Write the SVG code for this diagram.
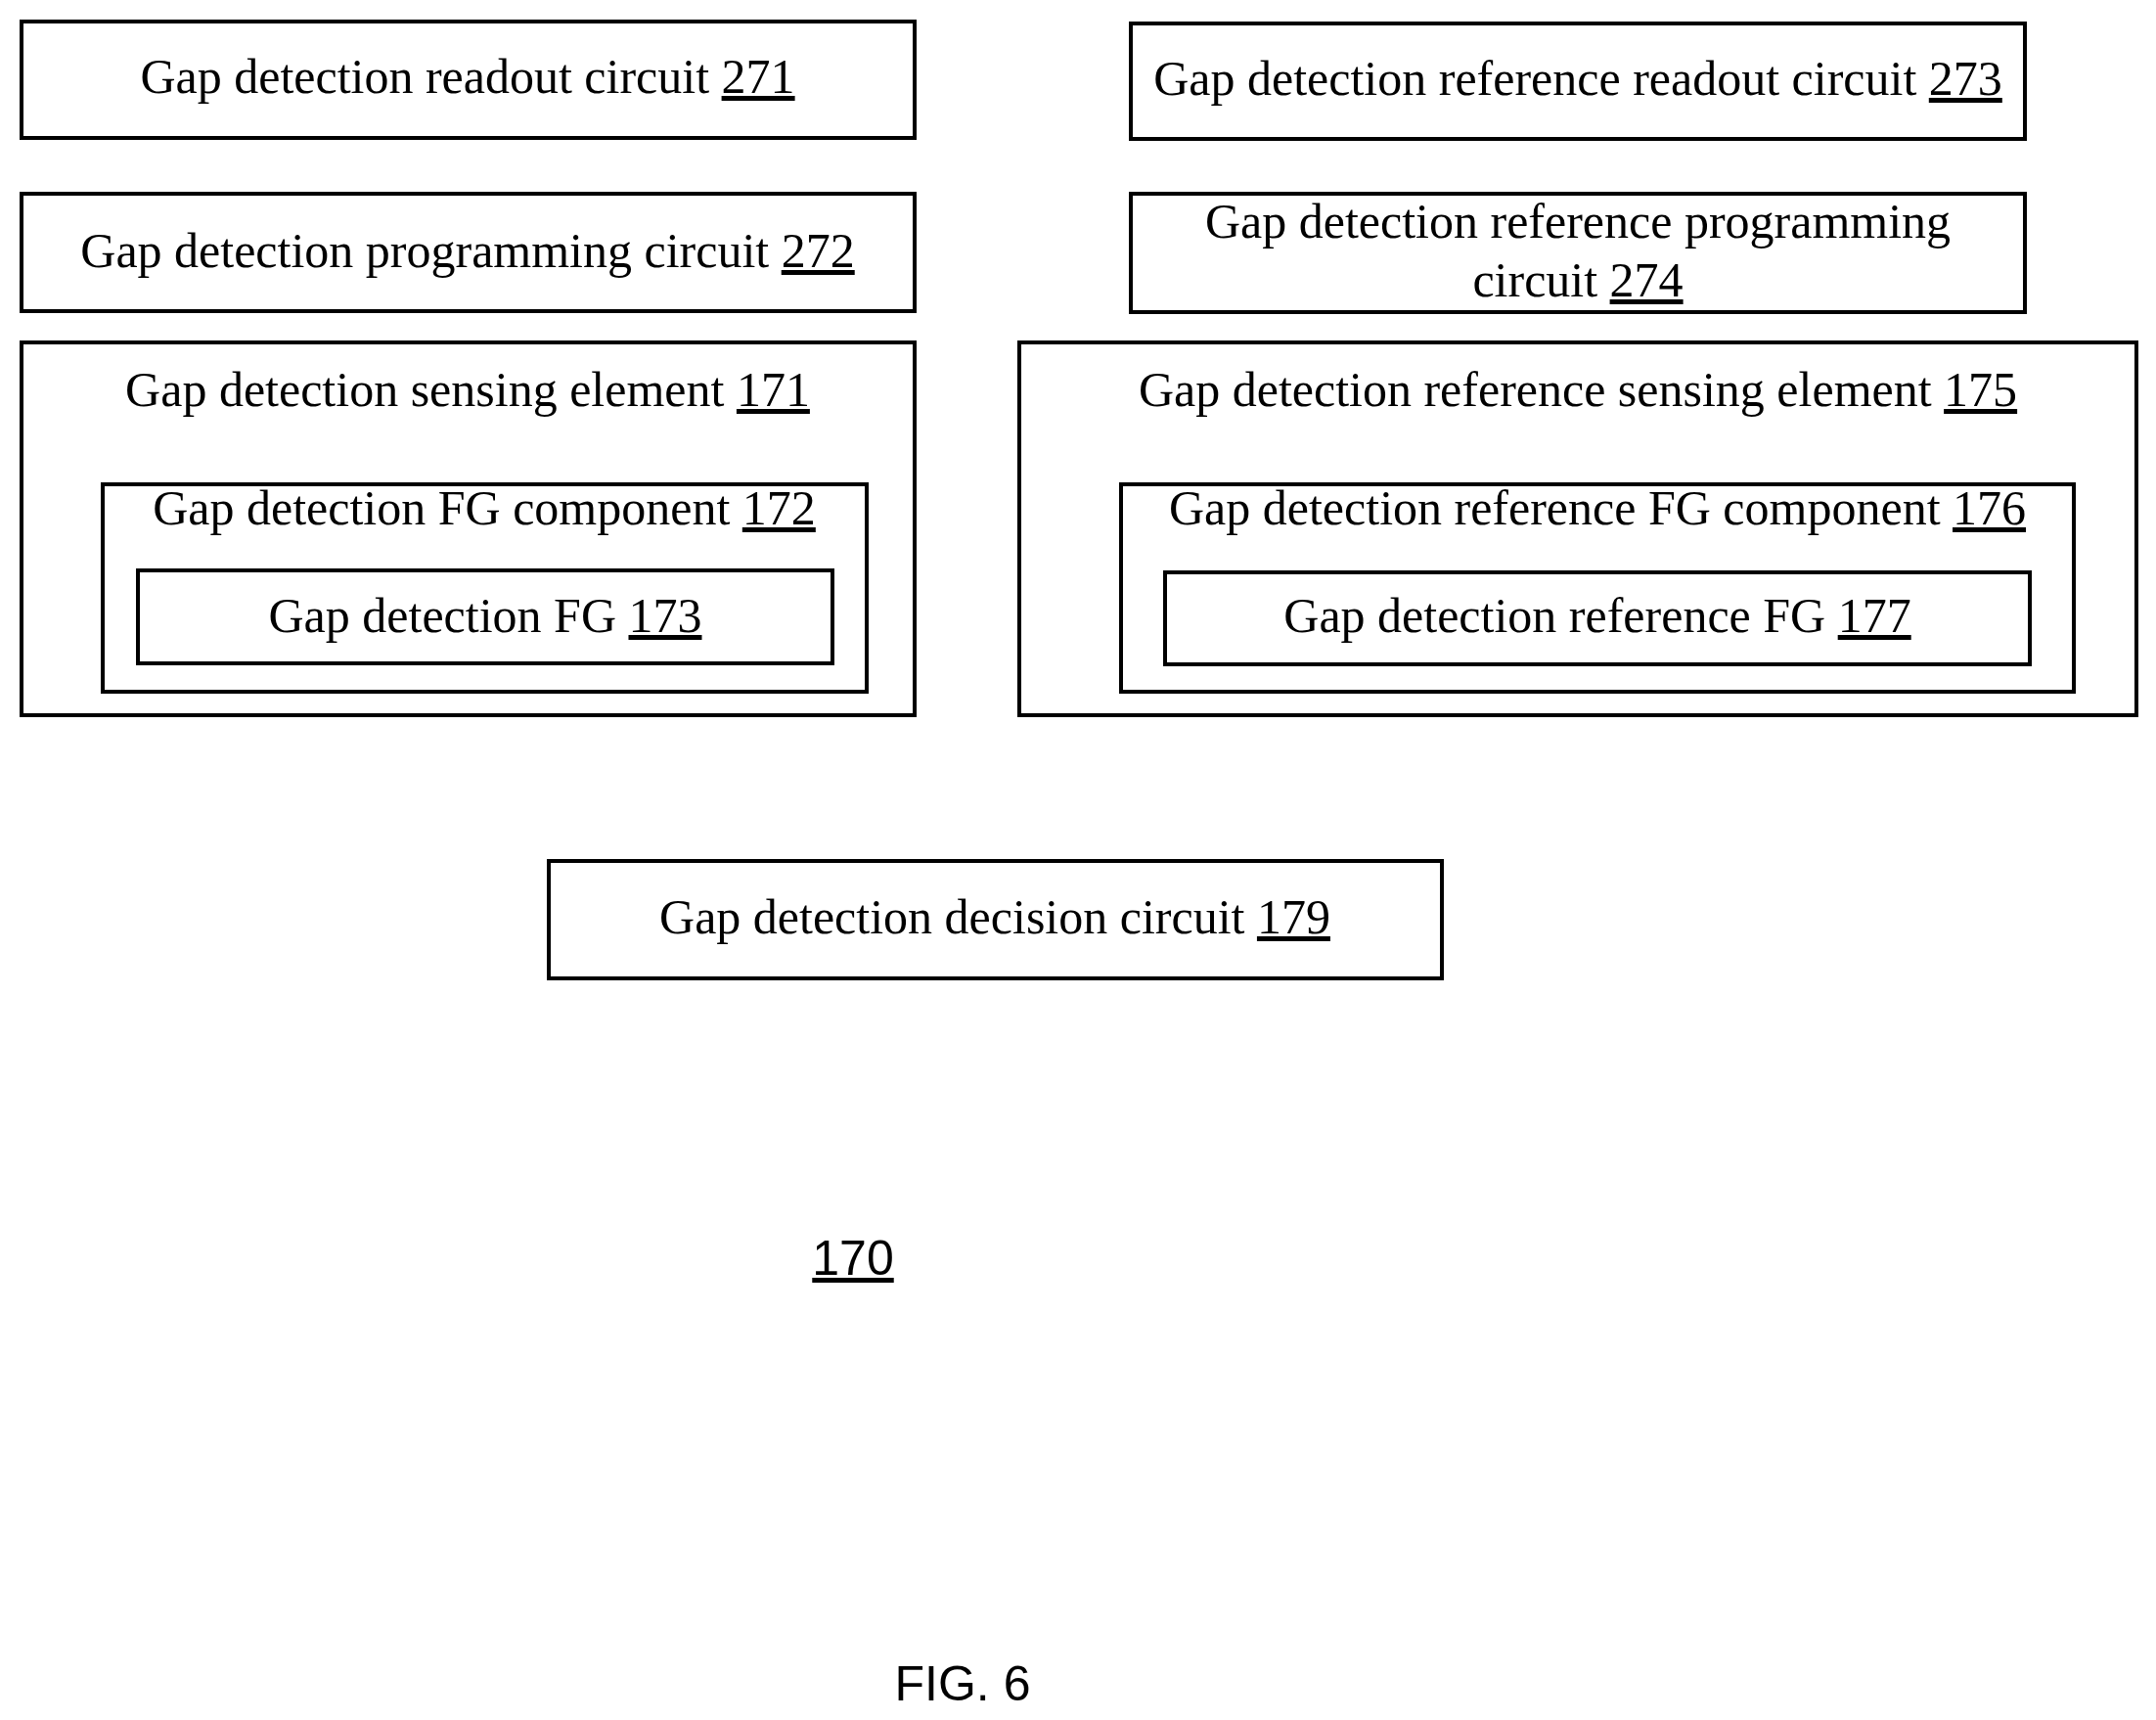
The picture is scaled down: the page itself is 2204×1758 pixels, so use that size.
<svg xmlns="http://www.w3.org/2000/svg" width="2204" height="1758" viewBox="0 0 2204 1758">
<style>
rect{fill:none;stroke:#000;stroke-width:4}
text{font-family:"Liberation Serif",serif;font-size:50px;text-anchor:middle;fill:#000}
.u{text-decoration:underline}
.s{font-family:"Liberation Sans",sans-serif;font-size:50px}
</style>
<rect width="2204" height="1758" fill="#fff" style="stroke:none;fill:#fff"/>
<g id="n271"><rect x="22" y="22" width="913" height="119"/><text x="478" y="95">Gap detection readout circuit <tspan class="u">271</tspan></text></g>
<g id="n273"><rect x="1156" y="24" width="914" height="118"/><text x="1613" y="97">Gap detection reference readout circuit <tspan class="u">273</tspan></text></g>
<g id="n272"><rect x="22" y="198" width="913" height="120"/><text x="478" y="273">Gap detection programming circuit <tspan class="u">272</tspan></text></g>
<g id="n274"><rect x="1156" y="198" width="914" height="121"/><text x="1613" y="243">Gap detection reference programming</text><text x="1613" y="303">circuit <tspan class="u">274</tspan></text></g>
<g id="n171"><rect x="22" y="350" width="913" height="381"/><text x="478" y="415">Gap detection sensing element <tspan class="u">171</tspan></text></g>
<g id="n172"><rect x="105" y="495" width="781" height="212"/><text x="495" y="536">Gap detection FG component <tspan class="u">172</tspan></text></g>
<g id="n173"><rect x="141" y="583" width="710" height="95"/><text x="496" y="646">Gap detection FG <tspan class="u">173</tspan></text></g>
<g id="n175"><rect x="1042" y="350" width="1142" height="381"/><text x="1613" y="415">Gap detection reference sensing element <tspan class="u">175</tspan></text></g>
<g id="n176"><rect x="1146" y="495" width="974" height="212"/><text x="1633" y="536">Gap detection reference FG component <tspan class="u">176</tspan></text></g>
<g id="n177"><rect x="1191" y="585" width="884" height="94"/><text x="1633" y="646">Gap detection reference FG <tspan class="u">177</tspan></text></g>
<g id="n179"><rect x="561" y="880" width="913" height="120"/><text x="1017" y="954">Gap detection decision circuit <tspan class="u">179</tspan></text></g>
<g id="connectors"></g>
<text class="s" x="872" y="1303"><tspan class="u">170</tspan></text>
<text class="s" x="984" y="1738">FIG. 6</text>
</svg>
